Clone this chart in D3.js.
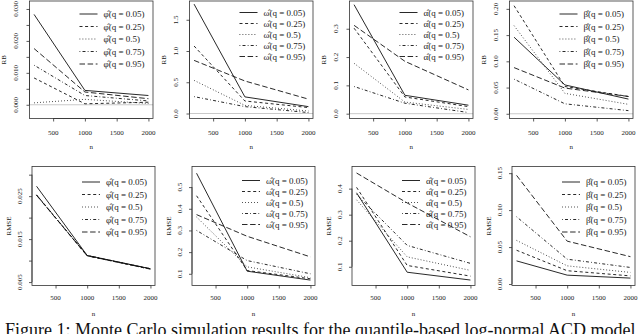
<!DOCTYPE html>
<html>
<head>
<meta charset="utf-8">
<script src="https://cdnjs.cloudflare.com/ajax/libs/d3/7.8.5/d3.min.js"></script>
<style>
body { margin: 0; background: #fff; }
svg { display: block; }
text { font-family: "Liberation Serif", "Times New Roman", serif; fill: #222; }
</style>
</head>
<body>
<div id="graph"></div>
<script>
var WIDTH = 640;
var HEIGHT = 334;

var sampleSizes = [200, 1000, 2000];
var quantiles = ["0.05", "0.25", "0.5", "0.75", "0.95"];
var symbols = ["φ", "ω", "α", "β"];
var statNames = ["RB", "RMSE"];
var xTicks = [500, 1000, 1500, 2000];

// one row per quantile, values at n = 200, 1000, 2000
var rbPhi = [
    [0.0283, 0.0045, 0.0029],
    [0.0084, 0.0003, 0.0008],
    [0.0006, 0.0017, 0.0004],
    [0.0124, 0.0029, 0.0012],
    [0.0176, 0.0040, 0.0019]
];
var rbOmega = [
    [1.75, 0.266, 0.11],
    [1.08, 0.20, 0.095],
    [0.53, 0.13, 0.04],
    [0.27, 0.11, 0.015],
    [0.85, 0.52, 0.23]
];
var rbAlpha = [
    [0.385, 0.065, 0.030],
    [0.302, 0.059, 0.025],
    [0.178, 0.041, 0.015],
    [0.096, 0.037, 0.004],
    [0.312, 0.185, 0.084]
];
var rbBeta = [
    [0.146, 0.055, 0.028],
    [0.206, 0.052, 0.033],
    [0.168, 0.039, 0.018],
    [0.066, 0.019, 0.006],
    [0.088, 0.049, 0.033]
];
var rmsePhi = [
    [0.0273, 0.0112, 0.0081],
    [0.0253, 0.0111, 0.0080],
    [0.0252, 0.0112, 0.0081],
    [0.0253, 0.0112, 0.0080],
    [0.0252, 0.0111, 0.0081]
];
var rmseOmega = [
    [0.564, 0.112, 0.071],
    [0.46, 0.115, 0.077],
    [0.362, 0.132, 0.082],
    [0.30, 0.161, 0.10],
    [0.373, 0.273, 0.178]
];
var rmseAlpha = [
    [0.384, 0.079, 0.049],
    [0.405, 0.105, 0.064],
    [0.357, 0.138, 0.086],
    [0.378, 0.182, 0.113],
    [0.46, 0.345, 0.215]
];
var rmseBeta = [
    [0.0313, 0.012, 0.008],
    [0.0457, 0.018, 0.011],
    [0.059, 0.0246, 0.0157],
    [0.091, 0.0336, 0.0224],
    [0.147, 0.058, 0.037]
];

var yLimits = [
    [-0.0043, 0.0325], [-0.08, 1.80], [-0.017, 0.398], [-0.009, 0.215],
    [0.0042, 0.0319], [0.046, 0.595], [0.028, 0.485], [-0.002, 0.159]
];
var yTickSteps = [0.005, 0.5, 0.1, 0.05, 0.005, 0.1, 0.1, 0.05];
var yLabelEvery = [2, 1, 1, 1, 2, 1, 1, 1];
var yFormats = [".3f", ".1f", ".1f", ".2f", ".3f", ".1f", ".1f", ".2f"];

var caption = "Figure 1: Monte Carlo simulation results for the quantile-based log-normal ACD model";

/* Styles */

var dashes = ["none", "3,2.6", "0.8,2.2", "0.8,2.2,3,2.2", "5.5,2.6"];
var rowLayout = [
    { top: 1, bottom: 118.5, left: 29.5, right: 153, tickY: 135, titleY: 149, labelX: -14, titleX: -25.5, legendY: 11.5 },
    { top: 166.5, bottom: 285.5, left: 32, right: 155, tickY: 299.5, titleY: 316, labelX: -12.5, titleX: -23, legendY: 14 }
];
var tallSymbol = { "φ": true, "β": true };

var svg = d3.select("#graph").append("svg")
    .attr("width", WIDTH)
    .attr("height", HEIGHT);

var panels = [rbPhi, rbOmega, rbAlpha, rbBeta, rmsePhi, rmseOmega, rmseAlpha, rmseBeta];

panels.forEach(function(values, p) {
    var row = Math.floor(p / 4);
    var col = p % 4;
    var L = rowLayout[row];
    var x0 = col * 160;

    // R style 4% padding on x
    var ext = d3.extent(sampleSizes);
    var pad = (ext[1] - ext[0]) * 0.04;
    var x = d3.scaleLinear().domain([ext[0] - pad, ext[1] + pad])
        .range([x0 + L.left, x0 + L.right]);
    var y = d3.scaleLinear().domain(yLimits[p]).range([L.bottom, L.top]);

    var g = svg.append("g");

    // zero reference line on RB panels
    if (row === 0) {
        g.append("line")
            .attr("x1", x0 + L.left).attr("x2", x0 + L.right)
            .attr("y1", y(0)).attr("y2", y(0))
            .attr("stroke", "#c9c9c9")
            .attr("stroke-width", 1);
    }

    var line = d3.line()
        .x(function(d, i) { return x(sampleSizes[i]); })
        .y(function(d) { return y(d); });

    g.selectAll("path.series")
        .data(values)
        .enter().append("path")
        .attr("class", "series")
        .attr("d", line)
        .attr("fill", "none")
        .attr("stroke", "#111")
        .attr("stroke-width", 0.9)
        .attr("stroke-dasharray", function(d, i) { return dashes[i]; });

    // box
    g.append("rect")
        .attr("x", x0 + L.left).attr("y", L.top)
        .attr("width", L.right - L.left).attr("height", L.bottom - L.top)
        .attr("fill", "none")
        .attr("stroke", "#333")
        .attr("stroke-width", 0.8);

    // x axis
    var xAxis = d3.axisBottom(x).tickValues(xTicks).tickSize(3).tickPadding(4);
    var xg = g.append("g")
        .attr("transform", "translate(0," + L.bottom + ")")
        .call(xAxis);
    xg.select(".domain").attr("d", "M" + x(xTicks[0]) + ",0H" + x(xTicks[xTicks.length - 1]))
        .attr("stroke", "#333").attr("stroke-width", 0.8);
    xg.selectAll(".tick line").attr("stroke", "#333").attr("stroke-width", 0.8);
    xg.selectAll(".tick text").remove();
    g.selectAll("text.xlab")
        .data(xTicks)
        .enter().append("text")
        .attr("class", "xlab")
        .attr("x", function(d) { return x(d); })
        .attr("y", L.tickY)
        .attr("text-anchor", "middle")
        .attr("font-size", 7)
        .text(function(d) { return d; });

    // y axis
    var step = yTickSteps[p];
    var lim = yLimits[p];
    var yTicks = d3.range(Math.ceil(lim[0] / step - 1e-9), Math.floor(lim[1] / step + 1e-9) + 1)
        .map(function(i) { return Math.round(i * step * 1e6) / 1e6; });
    var yAxis = d3.axisLeft(y).tickValues(yTicks).tickSize(3).tickFormat("");
    var yg = g.append("g")
        .attr("transform", "translate(" + (x0 + L.left) + ",0)")
        .call(yAxis);
    yg.select(".domain").attr("d", "M0," + y(yTicks[0]) + "V" + y(yTicks[yTicks.length - 1]))
        .attr("stroke", "#333").attr("stroke-width", 0.8);
    yg.selectAll(".tick line").attr("stroke", "#333").attr("stroke-width", 0.8);

    var fmt = d3.format(yFormats[p]);
    g.selectAll("text.ylab")
        .data(yTicks.filter(function(d, i) { return i % yLabelEvery[p] === 0; }))
        .enter().append("text")
        .attr("class", "ylab")
        .attr("transform", function(d) {
            return "translate(" + (x0 + L.left + L.labelX) + "," + y(d) + ") rotate(-90)";
        })
        .attr("text-anchor", "middle")
        .attr("dominant-baseline", "central")
        .attr("font-size", 7)
        .text(function(d) { return fmt(d); });

    // axis titles
    g.append("text")
        .attr("x", (x(ext[0] - pad) + x(ext[1] + pad)) / 2)
        .attr("y", L.titleY)
        .attr("text-anchor", "middle")
        .attr("font-size", 7)
        .text("n");
    g.append("text")
        .attr("transform", "translate(" + (x0 + L.left + L.titleX) + "," + ((L.top + L.bottom) / 2) + ") rotate(-90)")
        .attr("text-anchor", "middle")
        .attr("dominant-baseline", "central")
        .attr("font-size", 7)
        .text(statNames[row]);

    // legend
    var sym = symbols[col];
    var spacing = tallSymbol[sym] ? 12.5 : 11;
    var firstY = L.top + L.legendY + (tallSymbol[sym] ? 1.5 : 0);
    var leg = g.append("g").selectAll("g")
        .data(quantiles)
        .enter().append("g")
        .attr("transform", function(d, i) { return "translate(" + (x0 + L.left) + "," + (firstY + i * spacing) + ")"; });
    leg.append("line")
        .attr("x1", 50).attr("x2", 68)
        .attr("y1", 0).attr("y2", 0)
        .attr("stroke", "#111")
        .attr("stroke-width", 0.9)
        .attr("stroke-dasharray", function(d, i) { return dashes[i]; });
    leg.append("text")
        .attr("x", 74)
        .attr("y", 3)
        .attr("font-size", 9)
        .text(function(d) { return sym + "\u0302(q = " + d + ")"; });
});

// caption runs past the bottom edge, as in the source image
svg.append("text")
    .attr("x", 5)
    .attr("y", 335.5)
    .attr("font-size", 18)
    .style("fill", "#111")
    .text(caption);
</script>
</body>
</html>
